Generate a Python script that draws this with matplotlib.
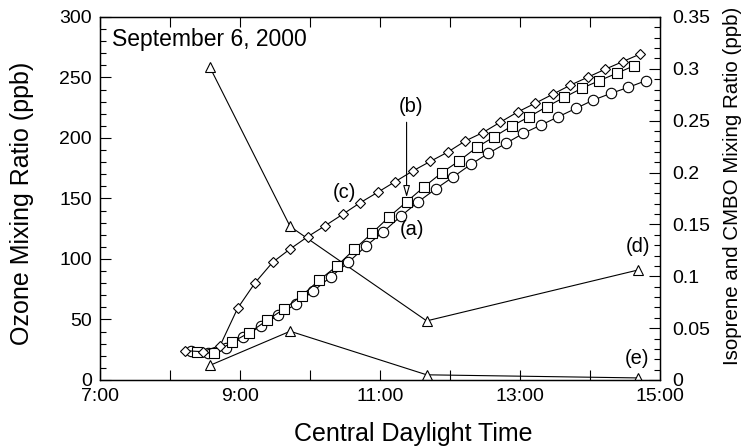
import matplotlib
matplotlib.use("Agg")
import matplotlib.pyplot as plt
from matplotlib.ticker import MultipleLocator, FixedLocator

plt.rcParams['font.family'] = ['Liberation Sans', 'DejaVu Sans']

# sampling times (CDT) for the three ozone series and the canister samples
t_c = ["8:13", "8:28", "8:43", "8:58", "9:13", "9:28", "9:43", "9:58", "10:13",
       "10:28", "10:43", "10:58", "11:13", "11:28", "11:43", "11:58", "12:13",
       "12:28", "12:43", "12:58", "13:13", "13:28", "13:43", "13:58", "14:13",
       "14:28", "14:43"]
t_a = ["8:18", "8:33", "8:48", "9:03", "9:18", "9:33", "9:48", "10:03", "10:18",
       "10:33", "10:48", "11:03", "11:18", "11:33", "11:48", "12:03", "12:18",
       "12:33", "12:48", "13:03", "13:18", "13:33", "13:48", "14:03", "14:18",
       "14:33", "14:48"]
t_b = ["8:23", "8:38", "8:53", "9:08", "9:23", "9:38", "9:53", "10:08", "10:23",
       "10:38", "10:53", "11:08", "11:23", "11:38", "11:53", "12:08", "12:23",
       "12:38", "12:53", "13:08", "13:23", "13:38", "13:53", "14:08", "14:23",
       "14:38"]
t_de = ["8:34", "9:43", "11:40", "14:41"]

# ozone (ppb)
ozone_a = [24, 22.6, 26.5, 35.5, 44.6, 53.7, 62.8, 73.6, 85.4, 97.3, 110.7, 122.6,
           135.5, 147.4, 158.1, 168, 178.3, 187.4, 195.6, 203.9, 210.7, 217.6,
           224.5, 231.4, 236.9, 241.9, 247.4]
ozone_b = [22.9, 22.1, 31.2, 39.1, 49.2, 58.9, 69.7, 82.6, 94.2, 108, 121.2, 135,
           147.4, 159.8, 171.3, 181.2, 192.3, 201.1, 209.9, 217.6, 225.9, 233.6,
           241.1, 247.4, 253.5, 259.8]
ozone_c = [24.2, 23.4, 28.5, 59.3, 80.4, 97.3, 108.3, 118.4, 127.5, 136.9, 146.5,
           155.1, 163.9, 172.7, 180.6, 188.3, 197.5, 204.4, 213, 221.5, 228.7,
           236.1, 243.6, 250.2, 256.8, 263.1, 269.4]

# isoprene (d) and CMBO (e) (ppb)
isoprene_d = [0.302, 0.148, 0.057, 0.106]
cmbo_e = [0.014, 0.047, 0.005, 0.002]


def hours(ts):
    return [int(s.split(":")[0]) + int(s.split(":")[1]) / 60 for s in ts]


fig = plt.figure(figsize=(7.45, 4.46), dpi=100)
ax = fig.add_axes([0.1342, 0.148, 0.7517, 0.8139])
ax2 = ax.twinx()
ax2.set_position([0.1342, 0.148, 0.7517, 0.8139])
# ozone markers sit above the triangle lines
ax.set_zorder(ax2.get_zorder() + 1)
ax.patch.set_visible(False)

mk = dict(color='black', lw=0.8, mfc='white', mec='black', mew=0.8)
ax.plot(hours(t_a), ozone_a, marker='o', ms=7.5, **mk, zorder=3)
ax.plot(hours(t_b), ozone_b, marker='s', ms=7.5, **mk, zorder=4)
ax.plot(hours(t_c), ozone_c, marker='D', ms=5.5, **mk, zorder=5)
ax2.plot(hours(t_de), isoprene_d, marker='^', ms=7.5, **mk)
ax2.plot(hours(t_de), cmbo_e, marker='^', ms=7.5, **mk)

ax.set_xlim(7, 15)
ax.set_ylim(0, 300)
ax2.set_ylim(0, 0.35)

ax.xaxis.set_major_locator(FixedLocator(range(7, 16)))
ax.set_xticklabels(["7:00", "", "9:00", "", "11:00", "", "13:00", "", "15:00"])
ax.yaxis.set_major_locator(MultipleLocator(50))
ax.yaxis.set_minor_locator(MultipleLocator(10))
ax2.set_yticks([0, 0.05, 0.1, 0.15, 0.2, 0.25, 0.3, 0.35])
ax2.set_yticklabels(["0", "0.05", "0.1", "0.15", "0.2", "0.25", "0.3", "0.35"])
ax2.yaxis.set_minor_locator(MultipleLocator(0.01))

ax.tick_params(axis='x', which='major', direction='in', length=7, width=0.8,
               top=True, labelsize=14, pad=6)
ax.tick_params(axis='y', which='major', direction='in', length=8, width=0.8,
               labelsize=14, pad=6)
ax.tick_params(axis='y', which='minor', direction='in', length=4, width=0.8)
ax2.tick_params(axis='y', which='major', direction='in', length=8, width=0.8,
                labelsize=14, pad=9)
ax2.tick_params(axis='y', which='minor', direction='in', length=4, width=0.8)
for a in (ax, ax2):
    for sp in a.spines.values():
        sp.set_linewidth(0.9)

ax.set_xlabel("Central Daylight Time", fontsize=18)
ax.xaxis.set_label_coords(0.559, -0.115)
ax.set_ylabel("Ozone Mixing Ratio (ppb)", fontsize=18)
ax.yaxis.set_label_coords(-0.117, 0.486)
ax2.set_ylabel("Isoprene and CMBO Mixing Ratio (ppb)", fontsize=14.8)
ax2.yaxis.set_label_coords(1.112, 0.534)

ax.text(7.17, 281, "September 6, 2000", fontsize=16.5, ha='left', va='center')
ax.text(10.49, 155, "(c)", fontsize=14.5, ha='center', va='center')
ax.text(11.46, 124, "(a)", fontsize=14.5, ha='center', va='center')
ax.text(11.45, 226, "(b)", fontsize=14.5, ha='center', va='center')
ax.text(14.69, 110, "(d)", fontsize=14.5, ha='center', va='center')
ax.text(14.67, 18, "(e)", fontsize=14.5, ha='center', va='center')
ax.annotate("", xy=(11.38, 151), xytext=(11.38, 213),
            arrowprops=dict(arrowstyle='-|>,head_length=0.7,head_width=0.2',
                            fc='white', ec='black', lw=0.8, shrinkA=0, shrinkB=0))

fig.savefig("out.png", dpi=100)
